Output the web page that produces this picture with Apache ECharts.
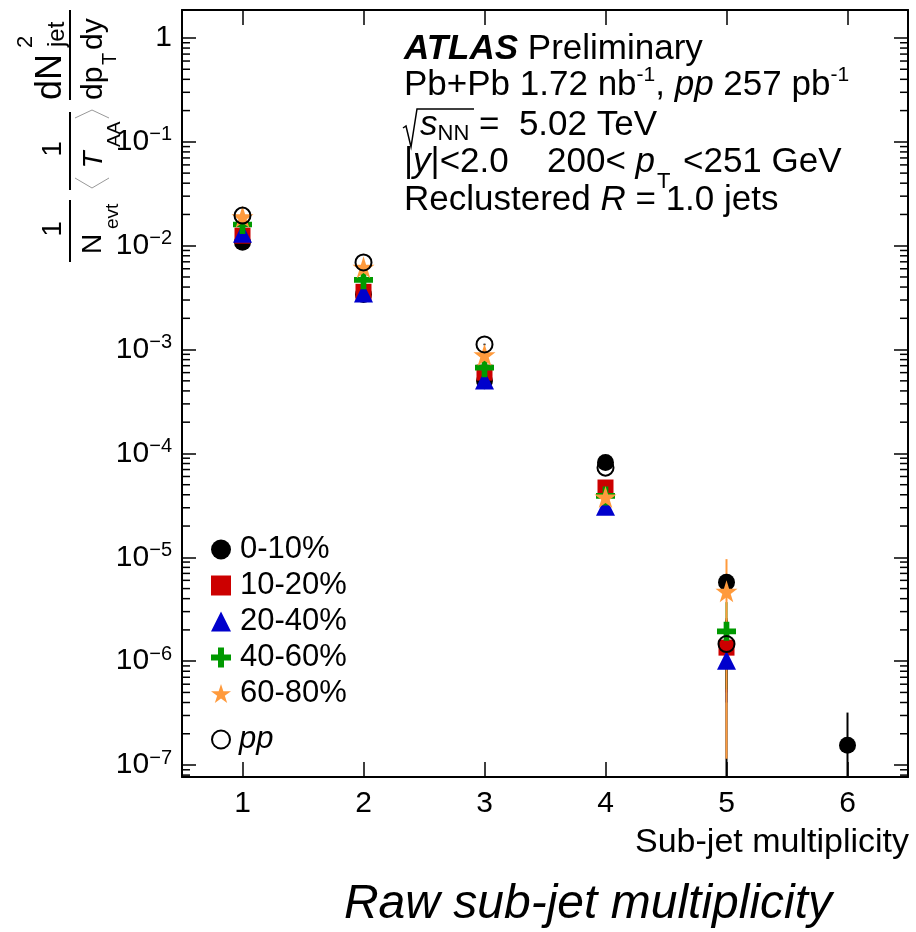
<!DOCTYPE html>
<html>
<head>
<meta charset="utf-8">
<script src="https://cdn.jsdelivr.net/npm/echarts@6/dist/echarts.min.js"></script>
<style>
html, body { margin: 0; padding: 0; background: #fff; }
#chart { width: 916px; height: 932px; }
</style>
</head>
<body>
<div id="chart"></div>
<script>
// sub-jet multiplicity bins
var multiplicity = [1, 2, 3, 4, 5, 6];

// centrality classes (points, then error bar low / high)
var c0_10   = [1.08e-2, 3.4e-3, 5.0e-4, 8.2e-5, 5.75e-6, 1.55e-7];
var c0_10Lo = [1.06e-2, 3.35e-3, 4.9e-4, 7.9e-5, 5.1e-6, 1e-9];
var c0_10Hi = [1.10e-2, 3.45e-3, 5.1e-4, 8.5e-5, 6.4e-6, 3.2e-7];

var c10_20   = [1.25e-2, 3.6e-3, 6.0e-4, 4.7e-5, 1.35e-6, null];
var c10_20Lo = [1.23e-2, 3.55e-3, 5.9e-4, 4.5e-5, 5.0e-7, null];
var c10_20Hi = [1.27e-2, 3.65e-3, 6.1e-4, 4.9e-5, 2.6e-6, null];

var c20_40   = [1.32e-2, 3.5e-3, 5.1e-4, 3.1e-5, 1.02e-6, null];
var c20_40Lo = [1.30e-2, 3.45e-3, 5.0e-4, 2.9e-5, 4.0e-7, null];
var c20_40Hi = [1.34e-2, 3.55e-3, 5.2e-4, 3.3e-5, 2.0e-6, null];

var c40_60   = [1.6e-2, 4.7e-3, 6.7e-4, 3.9e-5, 1.94e-6, null];
var c40_60Lo = [1.58e-2, 4.6e-3, 6.6e-4, 3.7e-5, 5.4e-7, null];
var c40_60Hi = [1.62e-2, 4.8e-3, 6.8e-4, 4.1e-5, 3.7e-6, null];

var c60_80   = [1.9e-2, 6.2e-3, 8.9e-4, 3.8e-5, 4.7e-6, null];
var c60_80Lo = [1.87e-2, 6.1e-3, 8.7e-4, 2.6e-5, 1.15e-7, null];
var c60_80Hi = [1.93e-2, 6.3e-3, 9.1e-4, 4.5e-5, 9.6e-6, null];

var ppRef   = [1.95e-2, 6.9e-3, 1.12e-3, 7.3e-5, 1.46e-6, null];
var ppRefLo = [1.93e-2, 6.85e-3, 1.1e-3, 7.1e-5, 1e-9, null];
var ppRefHi = [1.97e-2, 6.95e-3, 1.14e-3, 7.5e-5, 2.5e-6, null];

var legendNames = ['0-10%', '10-20%', '20-40%', '40-60%', '60-80%'];
var legendRef = ['pp'];

var FONT = 'Liberation Sans';
var crossPath = 'path://M35,0H65V35H100V65H65V100H35V65H0V35H35Z';
var starPath = 'path://M50,0L61.8,36.2L100,36.2L69.1,58.8L80.9,95.1L50,72.7L19.1,95.1L30.9,58.8L0,36.2L38.2,36.2Z';

// minor ticks of the log axis (2..9 x 10^n)
var minorTicks = [];
for (var dec = -8; dec <= -1; dec++) {
    for (var m = 2; m <= 9; m++) {
        var t = m * Math.pow(10, dec);
        if (t > 7.67e-8 && t < 1.86) minorTicks.push([0.5, t]);
    }
}

function pts(vals) {
    var out = [];
    for (var i = 0; i < multiplicity.length; i++) {
        if (vals[i] != null) out.push([multiplicity[i], vals[i]]);
    }
    return out;
}
function bars(lo, hi) {
    var out = [];
    for (var i = 0; i < multiplicity.length; i++) {
        if (lo[i] != null) out.push([multiplicity[i], lo[i], hi[i]]);
    }
    return out;
}

function errSeries(lo, hi, color) {
    return {
        type: 'custom',
        silent: true,
        data: bars(lo, hi),
        encode: { x: 0, y: [1, 2] },
        renderItem: function (params, api) {
            var a = api.coord([api.value(0), api.value(2)]);
            var b = api.coord([api.value(0), api.value(1)]);
            var cs = params.coordSys;
            var y1 = Math.max(a[1], cs.y);
            var y2 = Math.min(b[1], cs.y + cs.height);
            return {
                type: 'line',
                shape: { x1: a[0], y1: y1, x2: a[0], y2: y2 },
                style: { stroke: color, lineWidth: 2 }
            };
        }
    };
}
function ptSeries(name, vals, symbol, size, style) {
    style.opacity = 1;
    return {
        name: name,
        type: 'scatter',
        data: pts(vals),
        symbol: symbol,
        symbolSize: size,
        itemStyle: style,
        emphasis: { disabled: true }
    };
}

var dom = document.getElementById('chart');
var myChart = echarts.init(dom);

var axisLine = { show: true, lineStyle: { color: '#000', width: 2 } };

function txt(x, y, text, size, extra) {
    var s = { text: text, x: x, y: y, verticalAlign: 'middle', fontSize: size, fontFamily: FONT, fill: '#000' };
    for (var k in extra) s[k] = extra[k];
    return { type: 'text', style: s };
}

var legendText = {
    fontSize: 31, color: '#000', fontFamily: FONT, padding: [0, 0, 0, 4],
    rich: { i: { fontSize: 31, fontStyle: 'italic', fontFamily: FONT, color: '#000' } }
};

var option = {
    backgroundColor: '#fff',
    animation: false,
    textStyle: { fontFamily: FONT },
    grid: { left: 182, right: 8, top: 10, bottom: 155 },
    legend: [{
        data: legendNames,
        orient: 'vertical',
        left: 206,
        top: 529,
        itemWidth: 20,
        itemHeight: 20,
        itemGap: 5,
        textStyle: legendText
    }, {
        data: legendRef,
        orient: 'vertical',
        left: 206,
        top: 719,
        itemWidth: 18,
        itemHeight: 18,
        textStyle: legendText,
        formatter: function (n) { return '{i|' + n + '}'; }
    }],
    xAxis: [{
        type: 'value', min: 0.5, max: 6.5, splitNumber: 6, position: 'bottom',
        axisLine: axisLine,
        axisTick: { inside: true, length: 15, lineStyle: { color: '#000', width: 1.5 } },
        axisLabel: { fontSize: 30, color: '#000', fontFamily: FONT, margin: 12, showMinLabel: false, showMaxLabel: false },
        splitLine: { show: false }
    }, {
        type: 'value', min: 0.5, max: 6.5, splitNumber: 6, position: 'top',
        axisLine: axisLine,
        axisTick: { inside: true, length: 15, lineStyle: { color: '#000', width: 1.5 } },
        axisLabel: { show: false },
        splitLine: { show: false }
    }],
    yAxis: [{
        type: 'log', logBase: 10, min: 7.67e-8, max: 1.86, position: 'left',
        axisLine: axisLine,
        axisTick: { inside: true, length: 14, lineStyle: { color: '#000', width: 1.5 } },
        axisLabel: {
            margin: 10, showMinLabel: false, showMaxLabel: false,
            formatter: function (v) {
                var e = Math.round(Math.log10(v));
                if (e === 0) return '{b|1}';
                return '{b|10}{e|\u2212' + (-e) + '}';
            },
            rich: {
                b: { fontSize: 30, lineHeight: 34, color: '#000', fontFamily: FONT },
                e: { fontSize: 20, lineHeight: 16, verticalAlign: 'top', color: '#000', fontFamily: FONT }
            }
        },
        splitLine: { show: false }
    }, {
        type: 'log', logBase: 10, min: 7.67e-8, max: 1.86, position: 'right',
        axisLine: axisLine,
        axisTick: { inside: true, length: 14, lineStyle: { color: '#000', width: 1.5 } },
        axisLabel: { show: false },
        splitLine: { show: false }
    }],
    series: [
        {
            type: 'custom', silent: true, data: minorTicks, encode: { x: 0, y: 1 },
            renderItem: function (params, api) {
                var p = api.coord([0.5, api.value(1)]);
                var cs = params.coordSys;
                return {
                    type: 'group',
                    children: [
                        { type: 'line', shape: { x1: cs.x, y1: p[1], x2: cs.x + 8, y2: p[1] }, style: { stroke: '#000', lineWidth: 1.5 } },
                        { type: 'line', shape: { x1: cs.x + cs.width, y1: p[1], x2: cs.x + cs.width - 8, y2: p[1] }, style: { stroke: '#000', lineWidth: 1.5 } }
                    ]
                };
            }
        },
        errSeries(c0_10Lo, c0_10Hi, '#000'),
        ptSeries('0-10%', c0_10, 'circle', 17, { color: '#000' }),
        errSeries(c10_20Lo, c10_20Hi, '#cc0000'),
        ptSeries('10-20%', c10_20, 'rect', 16, { color: '#cc0000' }),
        errSeries(c20_40Lo, c20_40Hi, '#0000cc'),
        ptSeries('20-40%', c20_40, 'triangle', 19, { color: '#0000cc' }),
        errSeries(c40_60Lo, c40_60Hi, '#009900'),
        ptSeries('40-60%', c40_60, crossPath, 19, { color: '#009900' }),
        errSeries(ppRefLo, ppRefHi, '#000'),
        errSeries(c60_80Lo, c60_80Hi, '#ff9a3c'),
        ptSeries('60-80%', c60_80, starPath, 22, { color: '#ff9a3c' }),
        ptSeries('pp', ppRef, 'circle', 16, { color: 'rgba(0,0,0,0)', borderColor: '#000', borderWidth: 2 })
    ],
    graphic: [
        // ATLAS label block
        txt(404, 49, '{bi|ATLAS} Preliminary', 35, {
            rich: { bi: { fontSize: 35, fontFamily: FONT, fontWeight: 'bold', fontStyle: 'italic' } } }),
        txt(404, 85, '{n|Pb+Pb 1.72 nb}{s|-1}{n|, }{i|pp}{n| 257 pb}{s|-1}', 35, {
            rich: {
                n: { fontSize: 35, lineHeight: 40, fontFamily: FONT },
                i: { fontSize: 35, lineHeight: 40, fontFamily: FONT, fontStyle: 'italic' },
                s: { fontSize: 21, lineHeight: 20, fontFamily: FONT, verticalAlign: 'top' }
            } }),
        { type: 'polyline', shape: { points: [[403, 128], [406, 126], [411, 147], [417, 109], [474, 109]] },
            style: { stroke: '#000', lineWidth: 1.5, fill: null } },
        txt(420, 125, '{i|s}{b|NN}{n| =  5.02 TeV}', 35, {
            rich: {
                n: { fontSize: 35, lineHeight: 40, fontFamily: FONT },
                i: { fontSize: 35, lineHeight: 40, fontFamily: FONT, fontStyle: 'italic' },
                b: { fontSize: 22, lineHeight: 12, fontFamily: FONT, verticalAlign: 'bottom' }
            } }),
        txt(404, 162, '|{i|y}|<2.0', 35, {
            rich: { i: { fontSize: 35, fontFamily: FONT, fontStyle: 'italic' } } }),
        txt(547, 162, '200< {i|p}', 35, {
            rich: { i: { fontSize: 35, fontFamily: FONT, fontStyle: 'italic' } } }),
        txt(657, 182, 'T', 22, {}),
        txt(683, 162, '<251 GeV', 35, {}),
        txt(404, 200, 'Reclustered {i|R} = 1.0 jets', 35, {
            rich: { i: { fontSize: 35, fontFamily: FONT, fontStyle: 'italic' } } }),

        // y axis title, built as fractions and rotated
        {
            type: 'group', x: 70, y: 265, rotation: Math.PI / 2,
            children: [
                { type: 'line', shape: { x1: 3, y1: 0, x2: 65, y2: 0 }, style: { stroke: '#000', lineWidth: 2 } },
                txt(36, -17, '1', 28, { align: 'center' }),
                txt(21, 23, 'N', 28, { align: 'center' }),
                txt(36, 43, 'evt', 19, { align: 'left' }),

                { type: 'line', shape: { x1: 75, y1: 0, x2: 153, y2: 0 }, style: { stroke: '#000', lineWidth: 2 } },
                txt(116, -17, '1', 28, { align: 'center' }),
                txt(105, 24, 'T', 28, { align: 'center', fontStyle: 'italic' }),
                txt(118, 45, 'AA', 19, { align: 'left' }),
                { type: 'polyline', shape: { points: [[87, 5], [77, 22], [87, 39]] }, style: { stroke: '#999', lineWidth: 1, fill: null } },
                { type: 'polyline', shape: { points: [[147, 5], [155, 22], [147, 39]] }, style: { stroke: '#999', lineWidth: 1, fill: null } },

                { type: 'line', shape: { x1: 165, y1: 0, x2: 255, y2: 0 }, style: { stroke: '#000', lineWidth: 2 } },
                txt(165, -19, 'dN', 36, { align: 'left' }),
                txt(217, -44, '2', 22, { align: 'left' }),
                txt(218, -13, 'jet', 24, { align: 'left' }),
                txt(165, 24, 'dp', 30, { align: 'left' }),
                txt(200, 40, 'T', 20, { align: 'left' }),
                txt(215, 24, 'dy', 30, { align: 'left' })
            ]
        },

        // x axis title and caption
        txt(909, 843, 'Sub-jet multiplicity', 34, { align: 'right' }),
        txt(588, 905, 'Raw sub-jet multiplicity', 48, { align: 'center', fontStyle: 'italic' })
    ]
};

if (option && typeof option === 'object') {
    myChart.setOption(option, true);
}
window.onresize = function () {
    myChart.resize();
};
</script>
</body>
</html>
